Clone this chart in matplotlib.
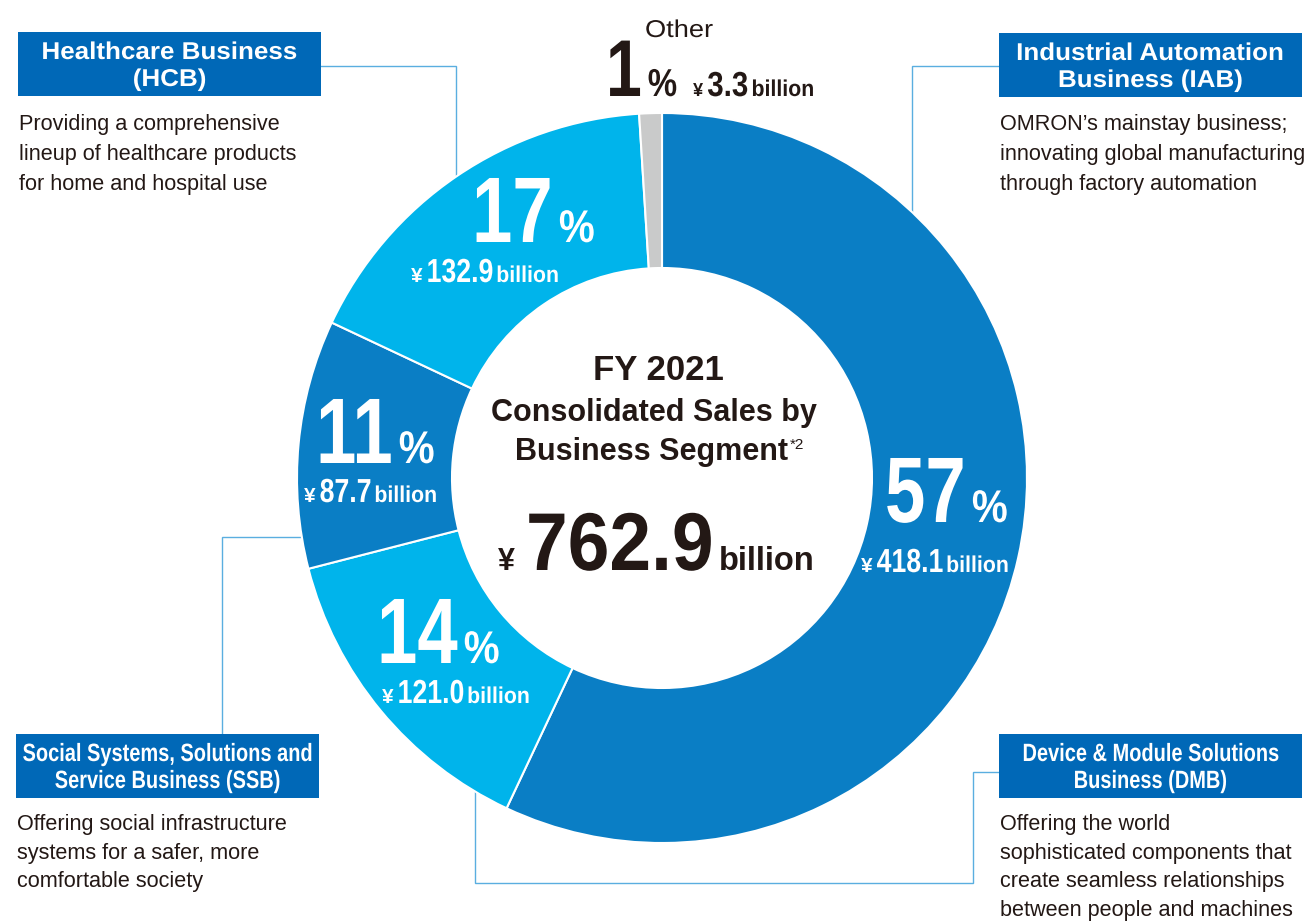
import matplotlib
matplotlib.use('Agg')
import matplotlib.pyplot as plt
import matplotlib.patches as patches
import matplotlib.patheffects as pe
from matplotlib.transforms import Affine2D

# Segment data (clockwise from 12 o'clock)
segments = ['IAB', 'DMB', 'SSB', 'HCB', 'Other']
share_pct = [57, 14, 11, 17, 1]
sales_bn = [418.1, 121.0, 87.7, 132.9, 3.3]
total_bn = 762.9
fiscal_year = 'FY 2021'

DARK = '#0A7EC5'
LIGHT = '#00B4EB'
GREY = '#C9CACA'
BOX = '#0068B7'
LEADER = '#5AAEE0'
INK = '#231815'
seg_colors = [DARK, LIGHT, DARK, LIGHT, GREY]

SANS = ['Liberation Sans', 'DejaVu Sans']

W, H = 1307, 922
fig = plt.figure(figsize=(W / 100, H / 100), dpi=100)
ax = fig.add_axes([0, 0, 1, 1])

# Donut
cx, cy, R, ring = 662, 478, 365, 155
ax.pie(share_pct, colors=seg_colors, startangle=-90, counterclock=True,
       radius=R, center=(cx, cy),
       wedgeprops=dict(width=ring, edgecolor='white', linewidth=1.5))
ax.set_xlim(0, W)
ax.set_ylim(H, 0)
ax.set_aspect('auto')
ax.axis('off')

renderer = fig.canvas.get_renderer()


class Tall(pe.AbstractPathEffect):
    """Stretch glyphs vertically from the baseline (condensed / wide look)."""
    def __init__(self, sy):
        super().__init__()
        self.sy = sy

    def draw_path(self, renderer, gc, tpath, affine, rgbFace=None):
        renderer.draw_path(gc, tpath, Affine2D().scale(1.0, self.sy) + affine, rgbFace)


def run(x, y, parts, color, align='left'):
    # parts: (text, size, weight, squeeze, gap after)
    items = []
    total = 0
    for s, size, weight, sx, gap in parts:
        t = ax.text(0, y, s, fontsize=size * sx, fontweight=weight, family=SANS,
                    color=color, ha='left', va='baseline', zorder=3)
        if sx != 1:
            t.set_path_effects([Tall(1.0 / sx)])
        w = t.get_window_extent(renderer).width
        items.append((t, w, gap))
        total += w + gap
    total -= items[-1][2]
    if align == 'center':
        x -= total / 2
    for t, w, gap in items:
        t.set_x(x)
        x += w + gap
    return x


def pct_label(i, x1, y1, x2, y2, color='white'):
    run(x1, y1, [(f'{share_pct[i]}', 67, 'bold', 0.78, 6),
                 ('%', 33, 'bold', 0.88, 0)], color)
    run(x2, y2, [('¥', 15, 'bold', 1, 4),
                 (f'{sales_bn[i]:.1f}', 24, 'bold', 0.8, 3),
                 ('billion', 16.5, 'bold', 0.93, 0)], color)


pct_label(0, 885, 522, 861, 572)
pct_label(1, 377, 663, 382, 703)
pct_label(2, 316, 463, 304, 502)
pct_label(3, 472, 242, 411, 282)

# Other
run(645, 37, [(segments[4], 17.5, 'normal', 1.12, 0)], INK)
run(606, 96, [(f'{share_pct[4]}', 58, 'bold', 0.8, 6),
              ('%', 28, 'bold', 0.85, 16),
              ('¥', 13, 'bold', 1, 4),
              (f'{sales_bn[4]:.1f}', 25, 'bold', 0.85, 3),
              ('billion', 16.5, 'bold', 0.93, 0)], INK)

# Centre text
run(658, 380, [(fiscal_year, 25, 'bold', 1, 0)], INK, align='center')
run(654, 421, [('Consolidated Sales by', 22, 'bold', 1, 0)], INK, align='center')
xe = run(515, 460, [('Business Segment', 22, 'bold', 1, 0)], INK)
ax.text(xe + 2, 449, '*2', fontsize=11, family=SANS, color=INK,
        ha='left', va='baseline')
run(498, 570, [('¥', 22, 'bold', 1, 11),
               (f'{total_bn:.1f}', 59, 'bold', 0.915, 5),
               ('billion', 23.5, 'bold', 1, 0)], INK)

# Leader lines (drawn under the ring)
leaders = [
    ([321, 456, 456], [66, 66, 200]),
    ([999, 912, 912], [66, 66, 240]),
    ([222, 222, 330], [734, 537, 537]),
    ([999, 973, 973, 475, 475], [772, 772, 883, 883, 760]),
]
for xs, ys in leaders:
    ax.plot(xs, ys, color=LEADER, lw=1.0, zorder=0.5, solid_joinstyle='miter')

# Business boxes + descriptions
boxes = [
    (18, 32, ['Healthcare Business', '(HCB)'], 1.07, 17.5,
     ['Providing a comprehensive', 'lineup of healthcare products',
      'for home and hospital use'], 130, 30),
    (999, 33, ['Industrial Automation', 'Business (IAB)'], 1.07, 17.5,
     ['OMRON\u2019s mainstay business;', 'innovating global manufacturing',
      'through factory automation'], 130, 30),
    (16, 734, ['Social Systems, Solutions and', 'Service Business (SSB)'], 0.8, 18,
     ['Offering social infrastructure', 'systems for a safer, more',
      'comfortable society'], 830, 28.5),
    (999, 734, ['Device & Module Solutions', 'Business (DMB)'], 0.8, 18,
     ['Offering the world', 'sophisticated components that',
      'create seamless relationships', 'between people and machines'], 830, 28.5),
]
for bx, by, title, sx, fs, desc, dy, step in boxes:
    ax.add_patch(patches.Rectangle((bx, by), 303, 64, facecolor=BOX,
                                   edgecolor='none', zorder=2))
    for k, line in enumerate(title):
        run(bx + 151.5, by + 27 + 27 * k, [(line, fs, 'bold', sx, 0)],
            'white', align='center')
    for k, line in enumerate(desc):
        ax.text(bx + 1, dy + step * k, line, fontsize=15.6, family=SANS,
                color=INK, ha='left', va='baseline')

fig.savefig('out.png', dpi=100, facecolor='white')
